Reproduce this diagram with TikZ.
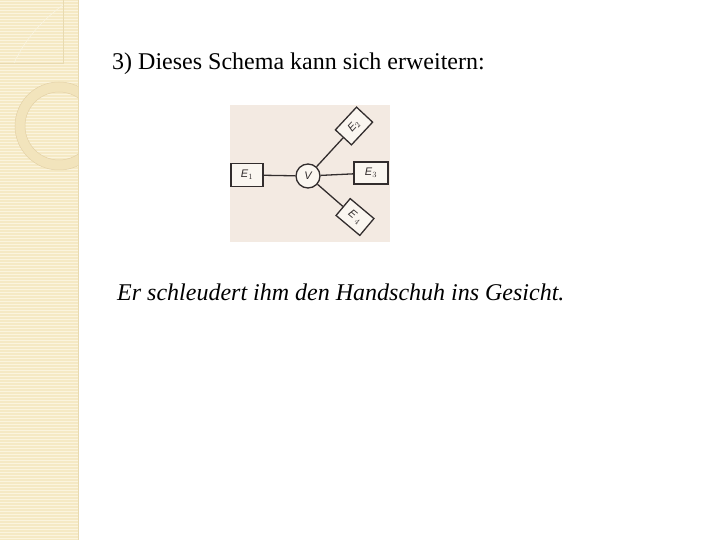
\documentclass[tikz,border=0pt]{standalone}
\usepackage{fontspec}
\setmainfont{Liberation Serif}
\setsansfont{Liberation Sans}
\definecolor{stripbg}{RGB}{245,233,196}
\definecolor{stripline}{RGB}{251,244,222}
\definecolor{stripedge}{RGB}{232,218,176}
\definecolor{ringfill}{RGB}{242,228,188}
\definecolor{ringline}{RGB}{228,210,168}
\definecolor{curveline}{RGB}{250,244,225}
\definecolor{photobg}{RGB}{243,234,226}
\definecolor{boxfill}{RGB}{250,246,240}
\definecolor{inkc}{RGB}{50,45,45}
\begin{document}
\begin{tikzpicture}[x=1pt,y=-1pt,
  ebox/.style={draw=inkc,line width=1.3pt,fill=boxfill,minimum width=32pt,minimum height=23pt,inner sep=0pt,text=inkc,font=\sffamily\itshape\fontsize{11}{11}\selectfont},
  vcirc/.style={circle,draw=inkc,line width=1.3pt,fill=boxfill,minimum size=24pt,inner sep=0pt,text=inkc,font=\sffamily\itshape\fontsize{11}{11}\selectfont},
  link/.style={draw=inkc,line width=1.3pt},
  heading/.style={anchor=base west,inner sep=0pt,font=\fontsize{24}{28}\selectfont}]
\useasboundingbox (0,0) rectangle (720,540);
\fill[white] (0,0) rectangle (720,540);
% left decorative strip
\fill[stripbg] (0,0) rectangle (78,540);
\foreach \y in {1,4,...,540} {\draw[line width=0.8pt,stripline] (0,\y) -- (78,\y);}
\draw[line width=0.6pt,stripedge] (78,0) -- (78,540);
\begin{scope}
\clip (0,0) rectangle (78,540);
\fill[ringfill,even odd rule] (59,126) circle (44) (59,126) circle (34);
\draw[line width=0.5pt,ringline] (59,126) circle (44) (59,126) circle (34);
\draw[line width=0.6pt,stripedge] (0,63) -- (63,63) -- (63,0);
\draw[line width=0.6pt,curveline] (14,63) .. controls (30,30) and (50,15) .. (63,5);
\end{scope}
% texts
\node[heading] (title) at (112,70) {3) Dieses Schema kann sich erweitern:};
\node[heading,font=\fontsize{24}{28}\selectfont\itshape] (sentence) at (117,300) {Er schleudert ihm den Handschuh ins Gesicht.};
% diagram photo background
\fill[photobg] (230,105) rectangle (390,242);
\node[vcirc] (V) at (308,176) {V};
\node[ebox] (E1) at (247,175) {E$_1$};
\node[ebox,minimum width=34pt,minimum height=22pt] (E3) at (371,173) {E$_3$};
\node[ebox,rotate=47,minimum width=31pt,minimum height=22pt] (E2) at (354,126) {E\kern-0.5pt$_2$};
\node[ebox,rotate=-40,minimum width=31pt,minimum height=22pt] (E4) at (355,217) {E\kern2pt$_4$};
\draw[link] (V) -- (E1);
\draw[link] (V) -- (E3);
\draw[link] (V) -- (E2);
\draw[link] (V) -- (E4);
\end{tikzpicture}
\end{document}
